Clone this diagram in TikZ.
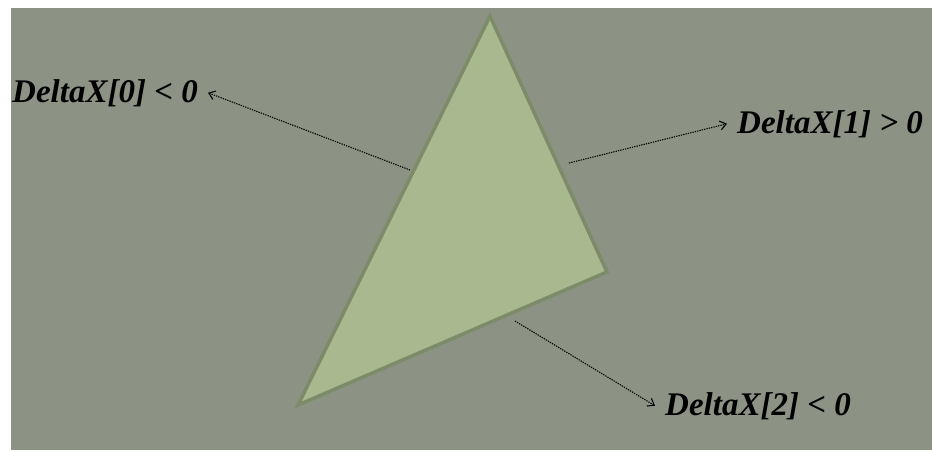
\documentclass[tikz,border=0pt]{standalone}
\usepackage{fontspec}
\setmainfont{Liberation Serif}
\usepackage{tikz}
\usetikzlibrary{arrows.meta}

\definecolor{boardgray}{RGB}{141,147,132}
\definecolor{trifill}{RGB}{168,184,143}
\definecolor{triedge}{RGB}{124,139,104}

\begin{document}
\begin{tikzpicture}[
    x=1pt, y=-1pt,
    lbl/.style={inner xsep=10pt, inner ysep=0pt, font=\fontsize{33}{38}\selectfont\bfseries\itshape},
    arr/.style={-{Straight Barb[length=6pt, width=9pt]}, dash pattern=on 1.3pt off 1.1pt, line width=1.1pt, black}
]
\useasboundingbox (0,0) rectangle (932,451);
\fill[white] (0,0) rectangle (932,451);
\fill[boardgray] (11,8) rectangle (932,450);

\coordinate (top) at (490,16);
\coordinate (right) at (607,272);
\coordinate (left) at (298,405);
\filldraw[fill=trifill, draw=triedge, line width=3.5pt] (top) -- (right) -- (left) -- cycle;

\node[lbl, anchor=base west] (dx0) at (2,102) {DeltaX[0] < 0};
\node[lbl, anchor=base west] (dx1) at (727,133) {DeltaX[1] > 0};
\node[lbl, anchor=base west] (dx2) at (655,415) {DeltaX[2] < 0};

\coordinate (s0) at (410,170);
\coordinate (s1) at (569,163);
\coordinate (s2) at (515,321);

\draw[arr] (s0) -- (dx0.east);
\draw[arr] (s1) -- (dx1.west);
\draw[arr] (s2) -- (dx2.west);
\end{tikzpicture}
\end{document}
